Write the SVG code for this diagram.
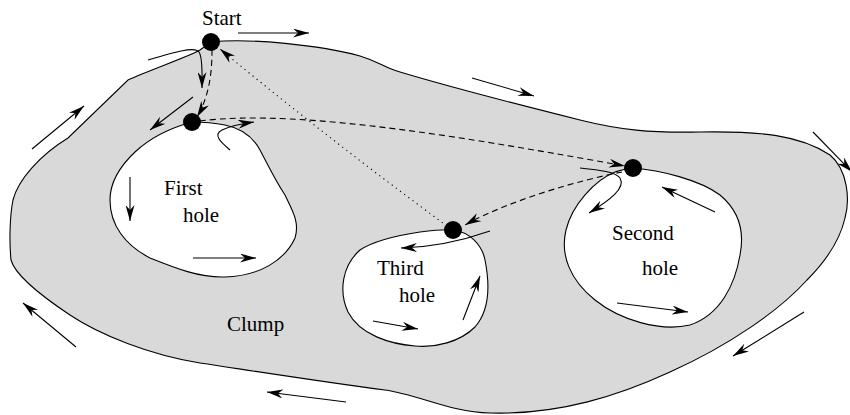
<svg xmlns="http://www.w3.org/2000/svg" width="850" height="415" viewBox="0 0 850 415">
  <defs>
    <style>
      .region { fill: #d9d9d9; stroke: #000; stroke-width: 1.1; }
      .hole { fill: #fff; stroke: #000; stroke-width: 1.1; }
      .dot { fill: #000; }
      .flow { fill: none; stroke: #000; stroke-width: 1.1; marker-end: url(#head); }
      .dash { fill: none; stroke: #000; stroke-width: 1.1; stroke-dasharray: 6 4; marker-end: url(#head); }
      .dotted { fill: none; stroke: #000; stroke-width: 1.1; stroke-dasharray: 1.2 4; marker-end: url(#head); }
      text { font-family: "Liberation Serif", "Times New Roman", serif; font-size: 21px; fill: #000; }
    </style>
    <marker id="head" viewBox="0 0 16 9" refX="16" refY="4.5" markerWidth="16" markerHeight="9" markerUnits="userSpaceOnUse" orient="auto">
      <path d="M0,0 L16,4.5 L0,9 L5,4.5 z" fill="#000"/>
    </marker>
  </defs>

  <!-- clump outline -->
  <g id="clump">
    <path class="region" d="M211,42 C250,38 320,45 360,56 C380,62 385,68 400,72 C460,90 520,105 580,120 C620,130 650,133 700,132 C760,131 800,135 830,155 C848,170 850,200 845,218 C840,240 825,262 807,280 C780,310 730,345 670,372 C620,395 560,415 490,413 C450,412 420,395 385,390 C330,383 260,372 200,363 C150,355 100,335 70,315 C40,295 15,275 11,260 C9,240 10,215 13,200 C18,180 40,155 68,138 L128,80 C150,70 190,56 200,50 Z"/>
  </g>

  <!-- holes -->
  <g id="hole-first">
    <path class="hole" d="M192,122 C170,128 150,138 135,152 C118,168 110,185 110,200 C110,225 125,245 150,258 C175,268 200,278 225,277 C260,276 285,260 295,238 C300,222 292,210 285,195 C275,180 268,165 260,150 C252,135 240,128 225,125 C210,122 200,122 192,122 Z"/>
  </g>
  <g id="hole-second">
    <path class="hole" d="M633,168 C660,170 700,180 720,195 C738,210 745,230 740,255 C735,285 720,315 690,325 C660,332 620,320 595,300 C570,280 560,255 566,230 C572,205 595,180 615,172 C622,170 628,168 633,168 Z"/>
  </g>
  <g id="hole-third">
    <path class="hole" d="M453,230 C470,232 482,245 485,260 C490,285 490,310 475,327 C460,342 435,348 415,346 C390,344 360,335 348,312 C338,290 343,265 360,250 C375,240 400,235 420,232 C435,230 445,229 453,230 Z"/>
  </g>

  <!-- connectors -->
  <g id="connectors">
    <!-- boundary traversal arrows -->
    <path class="flow" d="M238,33 L309,33"/>
    <path class="flow" d="M472,78 L534,96"/>
    <path class="flow" d="M813,132 L852,172"/>
    <path class="flow" d="M804,312 L733,356"/>
    <path class="flow" d="M346,402 L267,392"/>
    <path class="flow" d="M76,347 L23,303"/>
    <path class="flow" d="M32,149 L84,106"/>
    <path class="flow" d="M148,60 C175,52 195,46 199,52 C203,58 202,75 202,88"/>
    <path class="flow" d="M193,97 L150,130"/>
    <path class="flow" d="M230,150 C222,143 212,135 222,130 C230,126 240,124 254,122"/>
    <path class="flow" d="M130,177 L130,221"/>
    <path class="flow" d="M193,258 L256,258"/>
    <path class="flow" d="M715,212 L662,187"/>
    <path class="flow" d="M617,303 L688,312"/>
    <path class="flow" d="M580,168 C600,170 616,172 620,178 C626,188 610,200 589,213"/>
    <path class="flow" d="M490,231 C470,238 440,247 401,248"/>
    <path class="flow" d="M373,321 L418,329"/>
    <path class="flow" d="M463,320 L480,276"/>
    <!-- jumps between holes -->
    <path class="dash" d="M212,50 C212,70 210,95 197,117"/>
    <path class="dash" d="M200,121 C300,108 480,140 625,166"/>
    <path class="dash" d="M622,172 C580,180 510,200 465,225"/>
    <path class="dotted" d="M447,226 Q330,140 220,49"/>
  </g>

  <!-- contact points -->
  <g id="point-start"><circle class="dot" cx="211" cy="42" r="9"/></g>
  <g id="point-first"><circle class="dot" cx="192" cy="122" r="9"/></g>
  <g id="point-second"><circle class="dot" cx="633" cy="168" r="9"/></g>
  <g id="point-third"><circle class="dot" cx="453" cy="230" r="9"/></g>

  <!-- labels -->
  <g id="labels">
    <text x="202" y="25">Start</text>
    <text x="164" y="195">First</text>
    <text x="183" y="222">hole</text>
    <text x="612" y="240">Second</text>
    <text x="642" y="275">hole</text>
    <text x="377" y="275">Third</text>
    <text x="399" y="302">hole</text>
    <text x="227" y="331">Clump</text>
  </g>
</svg>
